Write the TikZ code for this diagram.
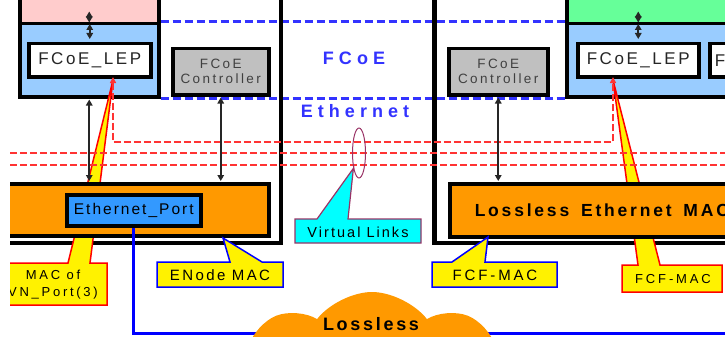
\documentclass[tikz,border=0pt]{standalone}
\usepackage{fontspec}
\setmainfont{Liberation Sans}
\usetikzlibrary{arrows.meta,shapes.geometric,shapes.symbols,backgrounds}

\definecolor{pinkc}{RGB}{255,204,204}
\definecolor{greenc}{RGB}{102,255,153}
\definecolor{lanblue}{RGB}{153,204,255}
\definecolor{ctrlgray}{RGB}{192,192,192}
\definecolor{macorange}{RGB}{255,153,0}
\definecolor{portblue}{RGB}{51,153,255}
\definecolor{fcoeblue}{RGB}{51,51,255}
\definecolor{vlred}{RGB}{255,51,51}
\definecolor{vlpurple}{RGB}{153,51,102}
\definecolor{vlcyan}{RGB}{0,255,255}
\definecolor{linkblue}{RGB}{0,0,255}

% size, baselineskip, letter spacing
\newcommand{\lsfont}[3]{\fontsize{#1}{#2}\selectfont\addfontfeature{LetterSpace=#3}}

\begin{document}
\begin{tikzpicture}[x=1pt,y=-1pt,
  lay/.style={draw=black,line width=3.5pt,inner sep=0pt,anchor=north west},
  devframe/.style={draw=black,line width=4.5pt,inner sep=0pt},
  dbl/.style={black!85,line width=1.7pt,shorten <=1pt,shorten >=1pt,
    {Triangle[length=6pt,width=6.5pt]}-{Triangle[length=6pt,width=6.5pt]}},
  vlink/.style={vlred,line width=2pt,dash pattern=on 7pt off 3pt},
  fcoeline/.style={fcoeblue,line width=3pt,dash pattern=on 8pt off 4pt},
  calloutR/.style={fill=yellow,draw=red,line width=1.5pt},
  calloutB/.style={fill=yellow,draw=linkblue,line width=1.5pt},
  calloutC/.style={fill=vlcyan,draw=vlpurple,line width=1.2pt},
  lepfont/.style={font=\lsfont{17}{20}{15},text=black!85},
  ctrlfont/.style={font=\lsfont{13.5}{15}{18},text=black!75,align=center},
  bigblue/.style={font=\bfseries\lsfont{18}{20}{28},text=fcoeblue},
  portfont/.style={font=\lsfont{15.5}{18}{13}},
  macfont/.style={font=\bfseries\lsfont{17.5}{20}{16}},
  vlfont/.style={font=\lsfont{14.5}{17}{14}},
  enfont/.style={font=\lsfont{15}{17}{16}},
  vnfont/.style={font=\lsfont{13}{17}{21},align=center},
  fcffont/.style={font=\lsfont{15}{17}{19}},
  fcfsmall/.style={font=\lsfont{13}{15}{22}},
  lossfont/.style={font=\bfseries\lsfont{18}{20}{15}}]
\useasboundingbox (0,0) rectangle (725,337);
\clip (10,0) rectangle (725,337);

% the two devices
\node[devframe,anchor=south east,minimum width=330pt,minimum height=290pt] (devL) at (283,245) {};
\node[devframe,anchor=south west,minimum width=330pt,minimum height=290pt] (devR) at (432,245) {};

% upper layers
\node[lay,fill=pinkc,minimum width=139pt,minimum height=42pt] (pinkL) at (18,-20) {};
\node[lay,fill=lanblue,minimum width=139pt,minimum height=73pt] (blueL) at (18,22) {};
\node[lay,fill=white,minimum width=122pt,minimum height=33pt,lepfont] (lepL) at (27,42) {FCoE\_LEP};
\node[lay,fill=ctrlgray,minimum width=96pt,minimum height=46pt,ctrlfont] (ctrlL) at (171,47) {FCoE\\Controller};
\node[lay,fill=greenc,minimum width=200pt,minimum height=42pt] (greenR) at (565,-20) {};
\node[lay,fill=lanblue,minimum width=200pt,minimum height=73pt] (blueR) at (565,22) {};
\node[lay,fill=white,minimum width=121pt,minimum height=33pt,lepfont] (lepR) at (576,42) {FCoE\_LEP};
\node[lay,fill=white,minimum height=33pt,lepfont,inner xsep=5pt,text width=86pt,align=left] (lepR2) at (708,42) {F};
\node[lay,fill=ctrlgray,minimum width=99pt,minimum height=46pt,ctrlfont] (ctrlR) at (447,47) {FCoE\\Controller};

% FCoE / Ethernet boundary
\begin{scope}[on background layer]
\draw[fcoeline] (blueL.north east) -- (blueR.north west);
\draw[fcoeline] (blueL.south east) -- (blueR.south west);
\end{scope}
\node[bigblue] (fcoeTxt) at (354,58) {FCoE};
\node[bigblue] (ethTxt) at (355,111) {Ethernet};

% callouts that point at the LEPs
\coordinate (vnTip) at (113,77);
\coordinate (vfTip) at (613,77);
\coordinate (vnWedge) at (113,80);
\coordinate (vfWedge) at (613,80);
\draw[calloutR] (0,263) -- (68,263) -- (vnWedge) -- (90,263) -- (107,263) -- (107,305) -- (0,305) -- cycle;
\node[vnfont] (vnTxt) at (53,285) {MAC of\\VN\_Port(3)};
\draw[calloutR] (622,265) -- (638,265) -- (vfWedge) -- (660,265) -- (722,265) -- (722,292) -- (622,292) -- cycle;
\node[fcfsmall] (fcfRTxt) at (673,279) {FCF-MAC};

% virtual links
\coordinate (vlaL) at (0,153);
\coordinate (vlaR) at (740,153);
\coordinate (vlbL) at (0,165);
\coordinate (vlbR) at (740,165);
\draw[vlink,{Triangle[length=6pt,width=6pt]}-{Triangle[length=6pt,width=6pt]}] (vnTip) -- ++(0,65) -| (vfTip);
\draw[vlink] (vlaL) -- (vlaR);
\draw[vlink] (vlbL) -- (vlbR);

% MACs
\node[lay,fill=macorange,minimum width=272pt,minimum height=52pt] (macL) at (-5,182) {};
\node[lay,fill=portblue,minimum width=134pt,minimum height=31pt,portfont] (portL) at (65,193) {Ethernet\_Port};
\node[lay,fill=macorange,minimum height=53pt,macfont,inner xsep=25pt,text width=290pt,align=left] (macR) at (448,182) {Lossless\hspace{6pt} Ethernet\hspace{6pt} MAC};

% layer arrows
\coordinate (gR) at (lepR.north |- greenR.south);
\draw[dbl] ([yshift=2pt]pinkL.south) -- ++(0,-13);
\draw[dbl] ([yshift=2pt]lepL.north) -- ++(0,-17);
\draw[dbl] ([yshift=2pt]gR) -- ++(0,-13);
\draw[dbl] ([yshift=2pt]lepR.north) -- ++(0,-17);
\draw[dbl] (blueL.south) -- (blueL.south |- macL.north);
\draw[dbl] (ctrlL.south) -- (ctrlL.south |- macL.north);
\draw[dbl] (ctrlR.south) -- (ctrlR.south |- macR.north);

% virtual link callout
\node[ellipse,draw=vlpurple,line width=1pt,minimum width=13pt,minimum height=50pt,inner sep=0pt] (vlEll) at (359,153) {};
\draw[calloutC] (295,219) -- (317,219) -- (vlEll.250) -- (348,219) -- (421,219) -- (421,243) -- (295,243) -- cycle;
\node[vlfont] (vlTxt) at (358,232) {Virtual Links};

% MAC callouts
\coordinate (enTip) at (223,238);
\coordinate (fcfTip) at (488,237);
\draw[calloutB] (157,262) -- (230,262) -- (enTip) -- (262,262) -- (283,262) -- (283,287) -- (157,287) -- cycle;
\node[enfont] (enTxt) at (220,275) {ENode MAC};
\draw[calloutB] (432,262) -- (452,262) -- (fcfTip) -- (485,262) -- (557,262) -- (557,287) -- (432,287) -- cycle;
\node[fcffont] (fcfTxt) at (495,275) {FCF-MAC};

% link into the lossless fabric
\coordinate (linkEnd) at (760,333);
\draw[linkblue,line width=3pt] (portL.south) |- (linkEnd);
\node[cloud,fill=macorange,cloud puffs=7,cloud puff arc=105,cloud ignores aspect,minimum width=245pt,minimum height=126pt,inner sep=0pt] (lossCloud) at (372,355) {};
\node[lossfont] (lossTxt) at (371,324) {Lossless};
\end{tikzpicture}
\end{document}
